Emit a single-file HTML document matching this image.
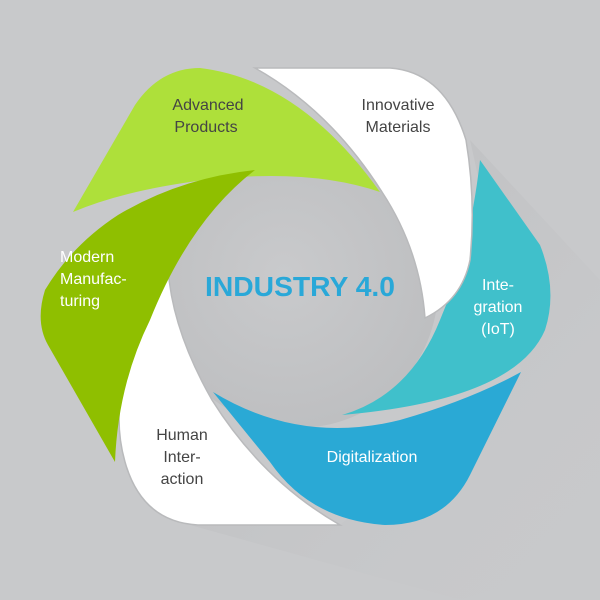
<!DOCTYPE html>
<html><head><style>
html,body{margin:0;padding:0;background:#c8c9cb;}
svg{display:block}
text{font-family:"Liberation Sans",sans-serif;}
</style></head><body>
<svg width="600" height="600" viewBox="0 0 600 600">
<defs>
<radialGradient id="cg" cx="0.45" cy="0.45" r="0.6">
<stop offset="0" stop-color="#c9cacc"/><stop offset="1" stop-color="#bdbec0"/>
</radialGradient>
<linearGradient id="sh" x1="0" y1="0" x2="1" y2="1">
<stop offset="0" stop-color="#b0b1b3" stop-opacity="0.6"/><stop offset="1" stop-color="#c8c9cb" stop-opacity="0"/>
</linearGradient>
</defs>
<rect width="600" height="600" fill="#c8c9cb"/>
<polygon points="470,140 600,280 600,560 460,600 190,525 340,525 521,372" fill="url(#sh)"/>
<circle cx="298" cy="288" r="140" fill="url(#cg)"/>
<path d="M168,268 Q150,320 125,370 Q113,420 125,462 Q142,522 198,525 L340,525 Q262,480 212,400 Q172,330 168,268 Z" fill="#fff" stroke="#b9babc" stroke-width="1.5"/>
<path d="M213,392 Q300,445 400,420 Q470,400 521,372 L470,475 Q445,525 385,525 Q310,520 270,462 Z" fill="#2aa9d5"/>
<path d="M480,160 L540,245 Q558,290 545,330 Q515,400 342,415 Q410,395 440,320 Q470,250 480,160 Z" fill="#40c0cb"/>
<path d="M255,68 L390,68 Q445,72 466,140 Q476,200 470,260 Q462,300 425,318 Q420,250 382,192 Q330,110 255,68 Z" fill="#fff" stroke="#b9babc" stroke-width="1.5"/>
<path d="M73,212 L135,105 Q160,68 200,68 Q300,80 380,192 Q310,168 205,180 Q125,190 73,212 Z" fill="#aee03a"/>
<path d="M255,170 Q180,178 118,215 Q72,245 45,290 Q35,322 48,345 L115,462 Q118,385 150,320 Q190,220 255,170 Z" fill="#8fbf00"/>
<text x="208" y="110" font-size="16" fill="#444" text-anchor="middle">Advanced</text>
<text x="206" y="132" font-size="16" fill="#444" text-anchor="middle">Products</text>
<text x="398" y="110" font-size="16" fill="#444" text-anchor="middle">Innovative</text>
<text x="398" y="132" font-size="16" fill="#444" text-anchor="middle">Materials</text>
<text x="60" y="262" font-size="16" fill="#fff">Modern</text>
<text x="60" y="284" font-size="16" fill="#fff">Manufac-</text>
<text x="60" y="306" font-size="16" fill="#fff">turing</text>
<text x="498" y="290" font-size="16" fill="#fff" text-anchor="middle">Inte-</text>
<text x="498" y="312" font-size="16" fill="#fff" text-anchor="middle">gration</text>
<text x="498" y="334" font-size="16" fill="#fff" text-anchor="middle">(IoT)</text>
<text x="372" y="462" font-size="16" fill="#fff" text-anchor="middle">Digitalization</text>
<text x="182" y="440" font-size="16" fill="#444" text-anchor="middle">Human</text>
<text x="182" y="462" font-size="16" fill="#444" text-anchor="middle">Inter-</text>
<text x="182" y="484" font-size="16" fill="#444" text-anchor="middle">action</text>
<text x="300" y="296" font-size="28" font-weight="bold" fill="#29a8d8" text-anchor="middle" textLength="190" lengthAdjust="spacingAndGlyphs">INDUSTRY 4.0</text>
</svg>
</body></html>
